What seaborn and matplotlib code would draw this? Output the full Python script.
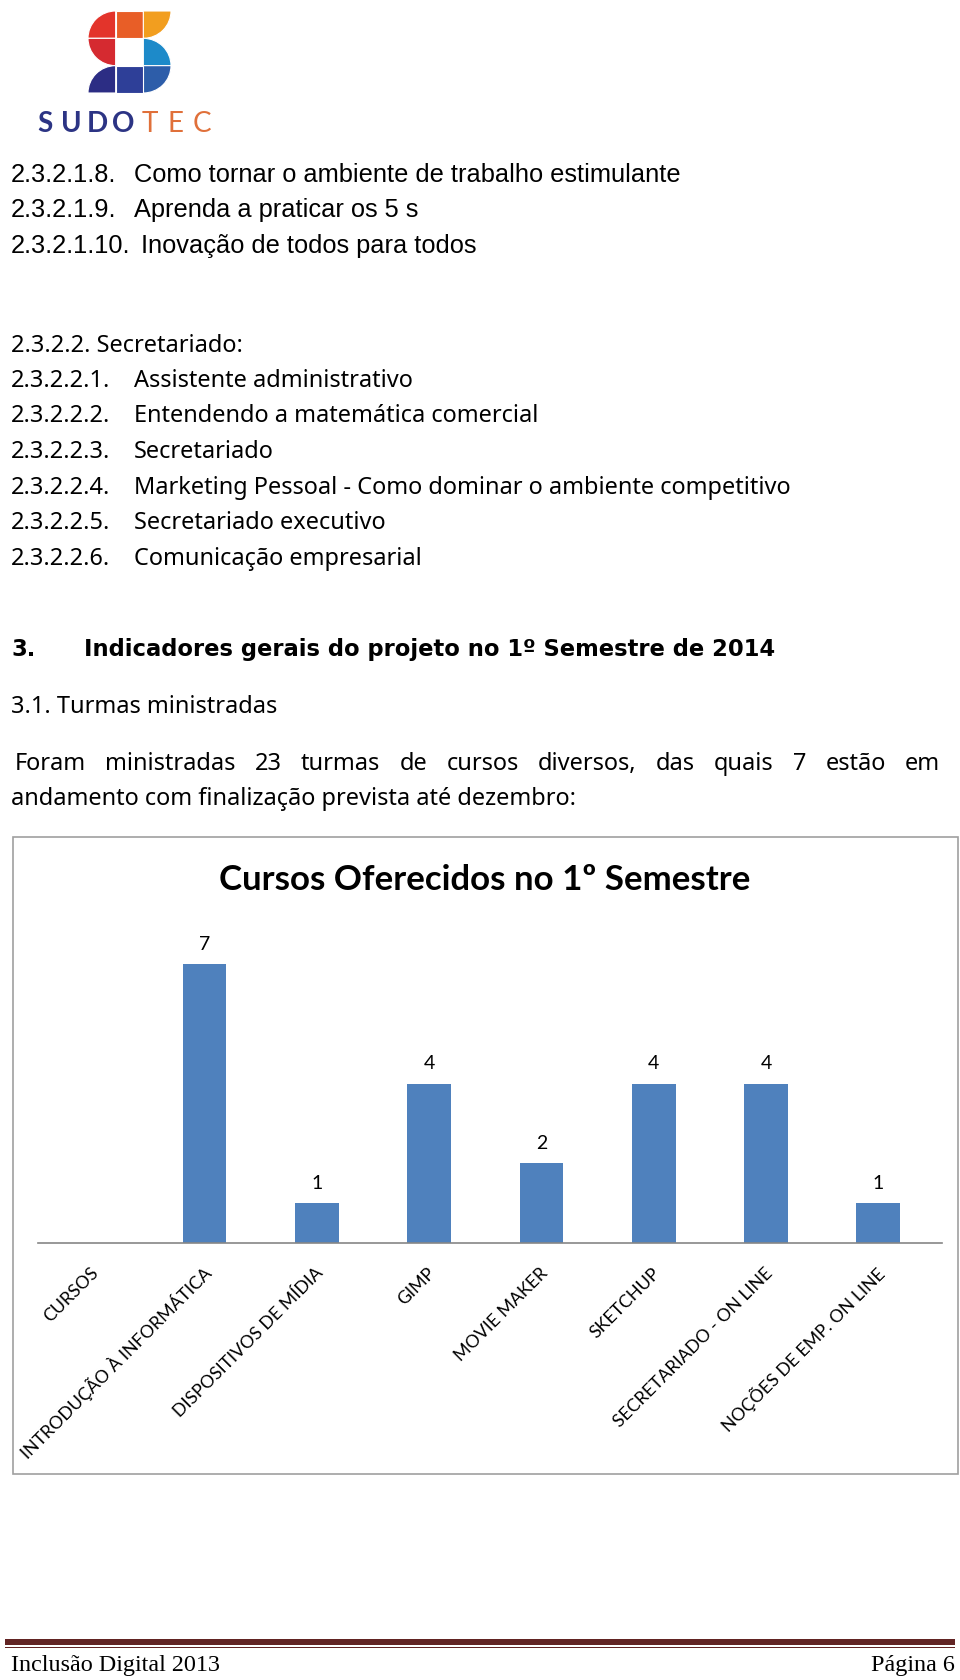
import numpy as np
import pandas as pd
import matplotlib
matplotlib.use("Agg")
import matplotlib.pyplot as plt
import matplotlib.patches as mpatches
import matplotlib.transforms as mtransforms
import seaborn as sns

# dados do gráfico
cursos = ["CURSOS", "INTRODUÇÃO À INFORMÁTICA", "DISPOSITIVOS DE MÍDIA", "GIMP",
          "MOVIE MAKER", "SKETCHUP", "SECRETARIADO - ON LINE", "NOÇÕES DE EMP. ON LINE"]
turmas = [0, 7, 1, 4, 2, 4, 4, 1]
titulo_grafico = "Cursos Oferecidos no 1º Semestre"

# texto da página
bloco1 = [("2.3.2.1.8.", "Como tornar o ambiente de trabalho estimulante"),
          ("2.3.2.1.9.", "Aprenda a praticar os 5 s"),
          ("2.3.2.1.10.", "Inovação de todos para todos")]
bloco2 = [("2.3.2.2. Secretariado:", ""),
          ("2.3.2.2.1.", "Assistente administrativo"),
          ("2.3.2.2.2.", "Entendendo a matemática comercial"),
          ("2.3.2.2.3.", "Secretariado"),
          ("2.3.2.2.4.", "Marketing Pessoal - Como dominar o ambiente competitivo"),
          ("2.3.2.2.5.", "Secretariado executivo"),
          ("2.3.2.2.6.", "Comunicação empresarial")]
paragrafo = ["Foram ministradas 23 turmas de cursos diversos, das quais 7 estão em",
             "andamento com finalização prevista até dezembro:"]

W, H = 960, 1681
fig = plt.figure(figsize=(W / 100, H / 100), dpi=100)
fig.patch.set_facecolor("white")
r = fig.canvas.get_renderer()
SANS = "Noto Sans"


def put(x, y, s, w=None, size=12, **kw):
    # escreve texto em coordenadas de pixel (y para baixo); ajusta a largura se pedido
    kw.setdefault("va", "center")
    t = fig.text(x / W, 1 - y / H, s, fontsize=size, **kw)
    if w:
        bw = t.get_window_extent(r).width
        t.set_fontsize(size * w / bw)
    return t


# --- logo ---
lg = fig.add_axes([88 / W, 1 - 94 / H, 83 / W, 82 / H])
lg.set_xlim(0, 3)
lg.set_ylim(0, 3)
lg.axis("off")
pecas = [
    mpatches.Wedge((1, 2), 1, 90, 180, fc="#E3342B"),
    mpatches.Wedge((1, 2), 1, 180, 270, fc="#D52A30"),
    mpatches.Rectangle((1, 2), 1, 1, fc="#E85E27"),
    mpatches.Wedge((2, 3), 1, 270, 360, fc="#F29E1F"),
    mpatches.Wedge((2, 1), 1, 0, 90, fc="#1D8AC9"),
    mpatches.Wedge((2, 1), 1, 270, 360, fc="#2D5DA9"),
    mpatches.Rectangle((1, 0), 1, 1, fc="#2E3F98"),
    mpatches.Wedge((1, 0), 1, 90, 180, fc="#2C2D84"),
]
for p in pecas:
    p.set_edgecolor("white")
    p.set_linewidth(0.8)
    lg.add_patch(p)

for i, letra in enumerate("SUDOTEC"):
    cor = "#2C3484" if i < 4 else "#E0703A"
    peso = "bold" if i < 4 else "normal"
    put(45 + i * 26.2, 124, letra, size=20, ha="center", color=cor,
        family="Lato", fontweight=peso)

# --- texto ---
fs1 = put(134, 175, bloco1[0][1], w=546, size=16, family="Liberation Sans").get_fontsize()
for k, (num, txt) in enumerate(bloco1):
    y = [175, 210, 246][k]
    put(11, y, num, size=fs1, family="Liberation Sans")
    if k > 0:
        put(141 if k == 2 else 134, y, txt, size=fs1, family="Liberation Sans")

ys2 = [346, 381, 416, 452, 488, 523, 559]
fs2 = put(134, ys2[4], bloco2[4][1], w=661, size=15, family=SANS).get_fontsize()
for k, (num, txt) in enumerate(bloco2):
    put(11, ys2[k], num, size=fs2, family=SANS)
    if txt and k != 4:
        put(134, ys2[k], txt, size=fs2, family=SANS)

fsh = put(84, 650, "Indicadores gerais do projeto no 1º Semestre de 2014", w=694,
          size=16, family="DejaVu Sans", fontweight="bold").get_fontsize()
put(11, 650, "3.", size=fsh, family="DejaVu Sans", fontweight="bold")
put(11, 707, "3.1. Turmas ministradas", size=fs2, family=SANS)

# linha justificada
palavras = paragrafo[0].split()
ts = [put(0, 764, p, size=fs2, family=SANS) for p in palavras]
larg = [t.get_window_extent(r).width for t in ts]
esp = (940 - 15 - sum(larg)) / (len(palavras) - 1)
x = 15
for t, lw in zip(ts, larg):
    t.set_x(x / W)
    x += lw + esp
put(11, 799, paragrafo[1], size=fs2, family=SANS)

# --- gráfico ---
fig.patches.append(mpatches.Rectangle((13 / W, 1 - 1475 / H), 945 / W, 637 / H,
                                      transform=fig.transFigure, fill=False,
                                      ec="#A0A0A0", lw=1.2))
put(485, 880, titulo_grafico, w=532, size=24, ha="center", family="Lato",
    fontweight="bold")

ax = fig.add_axes([38 / W, 1 - 1244 / H, 904 / W, 318.4 / H])
df = pd.DataFrame({"curso": cursos, "turmas": turmas})
sns.barplot(data=df, x="curso", y="turmas", order=cursos, color="#4F81BD",
            saturation=1, width=0.39, ax=ax)
ax.set_xlim(-0.483, 7.567)
ax.set_ylim(0, 8)
ax.set_xlabel("")
ax.set_ylabel("")
ax.set_yticks([])
for s in ["top", "left", "right"]:
    ax.spines[s].set_visible(False)
ax.spines["bottom"].set_color("#868686")
ax.spines["bottom"].set_linewidth(1.2)
ax.set_facecolor("none")
ax.bar_label(ax.containers[0], labels=["" if v == 0 else str(v) for v in turmas],
             padding=9, fontsize=14, family="Lato")
ax.tick_params(axis="x", length=0, pad=19)
desloc = mtransforms.ScaledTranslation(3.6 / 100, 0, fig.dpi_scale_trans)
for lbl in ax.get_xticklabels():
    lbl.set_rotation(45)
    lbl.set_ha("right")
    lbl.set_va("center")
    lbl.set_rotation_mode("anchor")
    lbl.set_fontsize(12.8)
    lbl.set_family("Lato")
    lbl.set_transform(lbl.get_transform() + desloc)

# --- rodapé ---
fig.patches.append(mpatches.Rectangle((5 / W, 1 - 1646 / H), 950 / W, 6 / H,
                                      transform=fig.transFigure, fc="#622423", ec="none"))
fig.patches.append(mpatches.Rectangle((5 / W, 1 - 1649 / H), 950 / W, 1.2 / H,
                                      transform=fig.transFigure, fc="#622423", ec="none"))
fsr = put(11, 1666, "Inclusão Digital 2013", w=209, size=16,
          family="Liberation Serif").get_fontsize()
put(955, 1666, "Página 6", size=fsr, ha="right", family="Liberation Serif")

fig.savefig("out.png", dpi=100)
